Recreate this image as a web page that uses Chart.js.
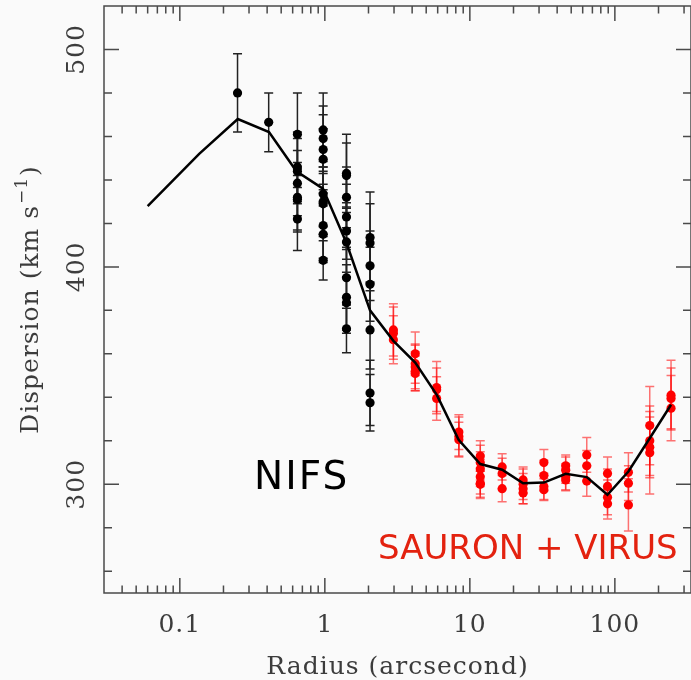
<!DOCTYPE html>
<html>
<head>
<meta charset="utf-8">
<script src="https://cdn.jsdelivr.net/npm/chart.js@4.4.1/dist/chart.umd.min.js"></script>
<style>
  html, body { margin: 0; padding: 0; background: #fafafa; }
  #wrap { width: 691px; height: 680px; }
</style>
</head>
<body>
<div id="wrap"><canvas id="chart" width="691" height="680"></canvas></div>
<script>
// axis limits and tick labels
const X_MIN = 0.03, X_MAX = 335;
const Y_MIN = 250, Y_MAX = 520;
const xTickLabels = [0.1, 1, 10, 100];
const yTickLabels = [300, 400, 500];
const yMinorStep  = 20;

// model curve
const modelRadius = [0.060, 0.136, 0.251, 0.412, 0.637, 0.97, 1.41, 2.05, 2.97, 4.2, 5.93, 8.37, 11.8, 16.7, 23.3, 32.4, 45.8, 64, 88.9, 124, 174, 244];
const modelSigma  = [428, 452, 468, 462, 444, 436, 411, 380, 366, 356, 341, 320.5, 309.3, 306.7, 300.5, 300.8, 304.8, 303.3, 295.2, 305.9, 321.2, 336.6];

// NIFS points
const nifsRadius = [0.25, 0.41,
  0.647, 0.647, 0.647, 0.647, 0.647, 0.647, 0.647,
  0.974, 0.974, 0.974, 0.974, 0.974, 0.974, 0.974, 0.974, 0.974, 0.974,
  1.41, 1.41, 1.41, 1.41, 1.41, 1.41, 1.41, 1.41, 1.41, 1.41,
  2.05, 2.05, 2.05, 2.05, 2.05, 2.05, 2.05];
const nifsSigma = [480, 466.5,
  461, 446, 444, 438.5, 432, 431, 422,
  463, 459, 454, 449.5, 433.5, 430, 429, 419, 415, 403,
  443, 442, 432, 423, 416.5, 411.5, 395, 386, 383.5, 371.5,
  413.5, 411, 400.5, 392, 371, 342, 337.5];
const nifsError = [18, 13.5,
  19, 16, 15, 15, 16, 14, 14.5,
  17, 15, 16, 14, 15, 16, 14, 15, 13, 9,
  18, 15, 14, 15, 13, 16, 14, 15, 14, 11,
  21, 18, 16, 17, 18, 15, 13];

// SAURON + VIRUS points
const sauronRadius = [2.97, 2.97, 2.97,
  4.2, 4.2, 4.2, 4.2, 4.2,
  5.9, 5.9, 5.9,
  8.4, 8.4, 8.4,
  11.8, 11.8, 11.8, 11.8, 11.8, 11.8,
  16.7, 16.7, 16.7,
  23.3, 23.3, 23.3, 23.3,
  32.4, 32.4, 32.4, 32.4,
  45.8, 45.8, 45.8, 45.8,
  64, 64, 64,
  89, 89, 89, 89,
  124, 124, 124,
  174, 174, 174, 174,
  244, 244, 244];
const sauronSigma = [371, 369.5, 366.5,
  360, 355.5, 354, 352, 351,
  344.5, 343.5, 339.5,
  324, 322, 320.5,
  313, 310, 307, 303.5, 300.5, 300,
  308, 305, 298,
  302, 300, 298, 296,
  310, 304, 299, 297.5,
  308.5, 306.5, 303.5, 302,
  313.5, 308.5, 301.5,
  305, 299, 294, 291,
  305.5, 300.5, 290.5,
  327, 320, 317, 314.5,
  341, 339.5, 335];
const sauronError = [12, 12, 11,
  10, 9, 10, 9, 8,
  12, 10, 10,
  8, 9, 8,
  7, 8, 8, 8, 7, 6,
  6, 7, 6,
  6, 7, 7, 5,
  6, 7, 6, 5,
  5, 6, 6, 5,
  8, 7, 7,
  7.5, 8, 8, 7,
  9, 8, 12,
  18, 16, 14, 19,
  16, 14, 15];

const LABEL_FONT = '25px "DejaVu Serif"';
const TEXT_COLOR = '#3c3c3c';

const toPoints = (xs, ys) => xs.map((r, i) => ({ x: r, y: ys[i] }));

const errorBars = {
  id: 'errorBars',
  beforeDatasetsDraw(chart) {
    const { ctx, scales: { x, y } } = chart;
    chart.data.datasets.forEach(ds => {
      if (!ds.errors) return;
      ctx.save();
      ctx.strokeStyle = ds.errorColor;
      ctx.lineWidth = 1.5;
      ds.data.forEach((p, i) => {
        const px = x.getPixelForValue(p.x);
        const top = y.getPixelForValue(p.y + ds.errors[i]);
        const bot = y.getPixelForValue(p.y - ds.errors[i]);
        ctx.beginPath();
        ctx.moveTo(px, top); ctx.lineTo(px, bot);
        ctx.moveTo(px - 4.5, top); ctx.lineTo(px + 4.5, top);
        ctx.moveTo(px - 4.5, bot); ctx.lineTo(px + 4.5, bot);
        ctx.stroke();
      });
      ctx.restore();
    });
  }
};

const frame = {
  id: 'frame',
  afterDraw(chart) {
    const { ctx, chartArea: a, scales: { x, y } } = chart;
    const seg = (x1, y1, x2, y2) => { ctx.moveTo(x1, y1); ctx.lineTo(x2, y2); };
    ctx.save();
    ctx.strokeStyle = '#4a4a4a';
    ctx.lineWidth = 1.5;
    ctx.beginPath();
    ctx.rect(a.left, a.top, a.right - a.left, a.bottom - a.top);
    for (let e = -2; e <= 3; e++) {
      for (let m = 1; m <= 9; m++) {
        const v = m * Math.pow(10, e);
        if (v <= X_MIN || v >= X_MAX) continue;
        const px = x.getPixelForValue(v), len = m === 1 ? 15 : 7.5;
        seg(px, a.bottom, px, a.bottom - len);
        seg(px, a.top, px, a.top + len);
      }
    }
    for (let v = Y_MIN + yMinorStep / 2; v < Y_MAX; v += yMinorStep) {
      const py = y.getPixelForValue(v), len = v % 100 === 0 ? 15 : 8;
      seg(a.left, py, a.left + len, py);
      seg(a.right, py, a.right - len, py);
    }
    ctx.stroke();

    ctx.fillStyle = TEXT_COLOR;
    ctx.font = LABEL_FONT;
    ctx.letterSpacing = '1px';
    ctx.textAlign = 'center';
    ctx.textBaseline = 'alphabetic';
    xTickLabels.forEach(v => ctx.fillText(String(v), x.getPixelForValue(v), 632));
    ctx.fillText('Radius (arcsecond)', (a.left + a.right) / 2, 674);

    yTickLabels.forEach(v => {
      ctx.save();
      ctx.translate(84, y.getPixelForValue(v));
      ctx.rotate(-Math.PI / 2);
      ctx.fillText(String(v), 0, 0);
      ctx.restore();
    });

    // y title with superscript
    ctx.save();
    ctx.translate(38, (a.top + a.bottom) / 2);
    ctx.rotate(-Math.PI / 2);
    ctx.textAlign = 'left';
    const main = 'Dispersion (km s', sup = '\u22121', close = ')';
    const supFont = '17px "DejaVu Serif"';
    const w1 = ctx.measureText(main).width;
    ctx.font = supFont;
    const w2 = ctx.measureText(sup).width + 2;
    ctx.font = LABEL_FONT;
    const w3 = ctx.measureText(close).width;
    let cx = -(w1 + w2 + w3) / 2;
    ctx.fillText(main, cx, 0); cx += w1;
    ctx.font = supFont;
    ctx.fillText(sup, cx + 1, -11); cx += w2;
    ctx.font = LABEL_FONT;
    ctx.fillText(close, cx, 0);
    ctx.restore();

    // instrument labels
    ctx.letterSpacing = '2px';
    ctx.textAlign = 'left';
    ctx.font = '39px "DejaVu Sans"';
    ctx.fillStyle = '#000000';
    ctx.fillText('NIFS', 254, 489);
    ctx.letterSpacing = '0px';
    ctx.font = '34px "DejaVu Sans"';
    ctx.fillStyle = '#e3220f';
    ctx.fillText('SAURON + VIRUS', 378, 559);
    ctx.restore();
  }
};

new Chart(document.getElementById('chart'), {
  type: 'scatter',
  data: {
    datasets: [
      { label: 'Model', data: toPoints(modelRadius, modelSigma), showLine: true, borderColor: '#000', borderWidth: 2.5, pointRadius: 0, tension: 0, order: 0 },
      { label: 'SAURON + VIRUS', data: toPoints(sauronRadius, sauronSigma), errors: sauronError, errorColor: 'rgba(255,0,0,0.55)', backgroundColor: '#ff0000', borderColor: '#ff0000', pointRadius: 4.6, borderWidth: 0, order: 2 },
      { label: 'NIFS', data: toPoints(nifsRadius, nifsSigma), errors: nifsError, errorColor: '#222', backgroundColor: '#000', borderColor: '#000', pointRadius: 4.6, borderWidth: 0, order: 1 }
    ]
  },
  options: {
    responsive: false,
    animation: false,
    devicePixelRatio: 1,
    layout: { autoPadding: false, padding: { left: 104, top: 6, right: 0, bottom: 87 } },
    plugins: { legend: { display: false }, tooltip: { enabled: false } },
    scales: {
      x: { type: 'logarithmic', min: X_MIN, max: X_MAX, display: false },
      y: { type: 'linear', min: Y_MIN, max: Y_MAX, display: false }
    }
  },
  plugins: [errorBars, frame]
});
</script>
</body>
</html>
